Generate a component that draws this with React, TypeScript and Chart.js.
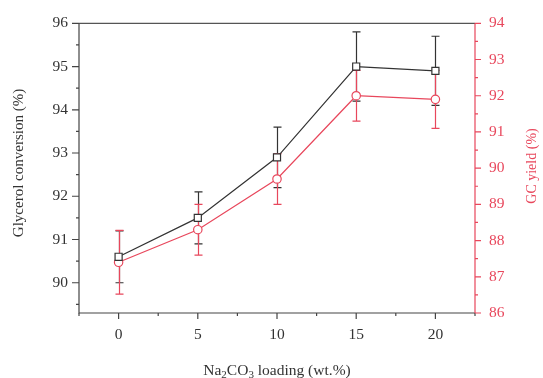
import React, { useEffect, useRef } from "react";
import { Chart, registerables } from "chart.js";

Chart.register(...registerables);

// ---- data ----
const loadings = [0, 5, 10, 15, 20];
const conversion = [90.6, 91.5, 92.9, 95.0, 94.9];
const conversionErr = [0.6, 0.6, 0.7, 0.8, 0.8];
const gcYield = [87.4, 88.3, 89.7, 92.0, 91.9];
const gcYieldErr = [0.88, 0.7, 0.7, 0.7, 0.8];

// ---- ticks ----
const xMajor = [0, 5, 10, 15, 20];
const xMinor = [-2.5, 2.5, 7.5, 12.5, 17.5, 22.5];
const yMajor = [90, 91, 92, 93, 94, 95, 96];
const yMinor = [89.5, 90.5, 91.5, 92.5, 93.5, 94.5, 95.5];
const y1Major = [86, 87, 88, 89, 90, 91, 92, 93, 94];
const y1Minor = [86.5, 87.5, 88.5, 89.5, 90.5, 91.5, 92.5, 93.5];

const BLACK = "#333333";
const RED = "#e8475c";
const FONT = "'Liberation Serif', 'Times New Roman', serif";

const errorPlugin = {
  id: "errorBars",
  beforeDatasetsDraw(chart: any) {
    const { ctx, scales } = chart;
    const x = scales.x;
    const sets = [
      { s: scales.y, v: conversion, e: conversionErr, c: BLACK },
      { s: scales.y1, v: gcYield, e: gcYieldErr, c: RED },
    ];
    ctx.save();
    ctx.lineWidth = 1.2;
    sets.forEach(({ s, v, e, c }) => {
      ctx.strokeStyle = c;
      loadings.forEach((lx, i) => {
        const px = Math.round(x.getPixelForValue(lx)) + 0.5;
        const yt = s.getPixelForValue(v[i] + e[i]);
        const yb = s.getPixelForValue(v[i] - e[i]);
        ctx.beginPath();
        ctx.moveTo(px, yt);
        ctx.lineTo(px, yb);
        ctx.moveTo(px - 4, yt);
        ctx.lineTo(px + 4, yt);
        ctx.moveTo(px - 4, yb);
        ctx.lineTo(px + 4, yb);
        ctx.stroke();
      });
    });
    ctx.restore();
  },
};

const framePlugin = {
  id: "frame",
  afterDraw(chart: any) {
    const { ctx, chartArea, scales } = chart;
    const { left, right, top, bottom } = chartArea;
    ctx.save();
    ctx.lineWidth = 1.2;
    // top border
    ctx.strokeStyle = "#555555";
    ctx.beginPath();
    ctx.moveTo(left, top);
    ctx.lineTo(right, top);
    ctx.stroke();
    // left + bottom axes
    ctx.strokeStyle = "#444444";
    ctx.beginPath();
    ctx.moveTo(left, top);
    ctx.lineTo(left, bottom);
    ctx.lineTo(right, bottom);
    ctx.stroke();
    // x ticks
    ctx.beginPath();
    xMajor.forEach((v) => {
      const p = scales.x.getPixelForValue(v);
      ctx.moveTo(p, bottom);
      ctx.lineTo(p, bottom + 6);
    });
    xMinor.forEach((v) => {
      const p = scales.x.getPixelForValue(v);
      ctx.moveTo(p, bottom);
      ctx.lineTo(p, bottom + 3);
    });
    // left ticks
    yMajor.forEach((v) => {
      const p = scales.y.getPixelForValue(v);
      ctx.moveTo(left, p);
      ctx.lineTo(left - 7, p);
    });
    yMinor.forEach((v) => {
      const p = scales.y.getPixelForValue(v);
      ctx.moveTo(left, p);
      ctx.lineTo(left - 3, p);
    });
    ctx.stroke();
    // right axis
    ctx.strokeStyle = RED;
    ctx.beginPath();
    ctx.moveTo(right, top);
    ctx.lineTo(right, bottom);
    y1Major.forEach((v) => {
      const p = scales.y1.getPixelForValue(v);
      ctx.moveTo(right, p);
      ctx.lineTo(right + 6, p);
    });
    y1Minor.forEach((v) => {
      const p = scales.y1.getPixelForValue(v);
      ctx.moveTo(right, p);
      ctx.lineTo(right + 3, p);
    });
    ctx.stroke();

    // axis titles
    ctx.fillStyle = BLACK;
    ctx.font = `15px ${FONT}`;
    ctx.textAlign = "center";
    ctx.textBaseline = "middle";
    ctx.save();
    ctx.translate(19, 163);
    ctx.rotate(-Math.PI / 2);
    ctx.fillText("Glycerol conversion (%)", 0, 0);
    ctx.restore();

    ctx.fillStyle = RED;
    ctx.font = `14px ${FONT}`;
    ctx.save();
    ctx.translate(532, 166);
    ctx.rotate(-Math.PI / 2);
    ctx.fillText("GC yield (%)", 0, 0);
    ctx.restore();

    // x title with subscripts
    const parts = [
      { t: "Na", sub: false },
      { t: "2", sub: true },
      { t: "CO", sub: false },
      { t: "3", sub: true },
      { t: " loading (wt.%)", sub: false },
    ];
    const normal = `15.5px ${FONT}`;
    const small = `11px ${FONT}`;
    let total = 0;
    parts.forEach((p) => {
      ctx.font = p.sub ? small : normal;
      total += ctx.measureText(p.t).width;
    });
    let cx = (left + right) / 2 - total / 2;
    const base = 375;
    ctx.fillStyle = BLACK;
    ctx.textAlign = "left";
    ctx.textBaseline = "alphabetic";
    parts.forEach((p) => {
      ctx.font = p.sub ? small : normal;
      ctx.fillText(p.t, cx, p.sub ? base + 3 : base);
      cx += ctx.measureText(p.t).width;
    });
    ctx.restore();
  },
};

export default function App() {
  const ref = useRef<HTMLCanvasElement | null>(null);

  useEffect(() => {
    document.body.style.margin = "0";
    const canvas = ref.current;
    if (!canvas) return;
    const chart = new Chart(canvas, {
      type: "scatter",
      data: {
        datasets: [
          {
            label: "Glycerol conversion",
            data: loadings.map((x, i) => ({ x, y: conversion[i] })),
            yAxisID: "y",
            showLine: true,
            borderColor: BLACK,
            borderWidth: 1.2,
            pointStyle: "rect",
            pointRadius: 5,
            pointBorderWidth: 1.2,
            pointBorderColor: BLACK,
            pointBackgroundColor: "#ffffff",
          },
          {
            label: "GC yield",
            data: loadings.map((x, i) => ({ x, y: gcYield[i] })),
            yAxisID: "y1",
            showLine: true,
            borderColor: RED,
            borderWidth: 1.2,
            pointStyle: "circle",
            pointRadius: 4.2,
            pointBorderWidth: 1.2,
            pointBorderColor: RED,
            pointBackgroundColor: "#ffffff",
          },
        ],
      },
      options: {
        animation: false,
        responsive: false,
        layout: { padding: { top: 22, left: 0, right: 0, bottom: 0 } },
        plugins: {
          legend: { display: false },
          tooltip: { enabled: false },
        },
        scales: {
          x: {
            type: "linear",
            min: -2.5,
            max: 22.5,
            grid: { display: false, drawTicks: false },
            border: { display: false },
            afterBuildTicks: (s: any) => {
              s.ticks = xMajor.map((v) => ({ value: v }));
            },
            afterFit: (s: any) => {
              s.height = 65;
            },
            ticks: {
              autoSkip: false,
              maxRotation: 0,
              padding: 13,
              color: BLACK,
              font: { family: FONT, size: 15.5 },
            },
          },
          y: {
            type: "linear",
            position: "left",
            min: 89.3,
            max: 96,
            grid: { display: false, drawTicks: false },
            border: { display: false },
            afterBuildTicks: (s: any) => {
              s.ticks = yMajor.map((v) => ({ value: v }));
            },
            afterFit: (s: any) => {
              s.width = 79;
            },
            ticks: {
              autoSkip: false,
              padding: 11,
              color: BLACK,
              font: { family: FONT, size: 15.5 },
            },
          },
          y1: {
            type: "linear",
            position: "right",
            min: 86,
            max: 94,
            grid: { display: false, drawTicks: false },
            border: { display: false },
            afterBuildTicks: (s: any) => {
              s.ticks = y1Major.map((v) => ({ value: v }));
            },
            afterFit: (s: any) => {
              s.width = 68;
            },
            ticks: {
              autoSkip: false,
              padding: 14,
              color: RED,
              font: { family: FONT, size: 15.5 },
            },
          },
        },
      },
      plugins: [errorPlugin, framePlugin],
    } as any);
    return () => chart.destroy();
  }, []);

  return (
    <div style={{ width: 543, height: 378 }}>
      <canvas ref={ref} width={543} height={378} style={{ display: "block" }} />
    </div>
  );
}
